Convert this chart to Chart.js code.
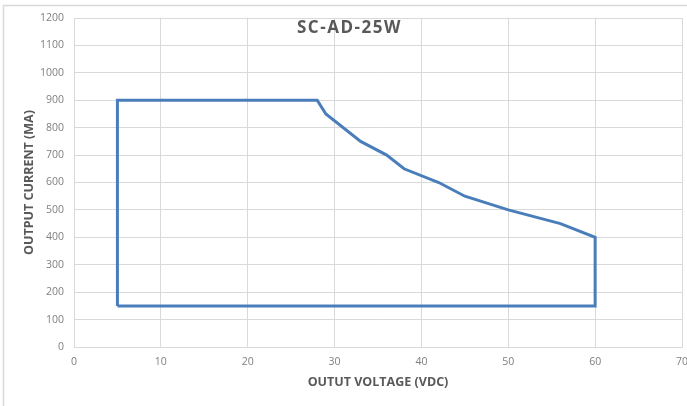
<!DOCTYPE html>
<html>
<head>
<meta charset="utf-8">
<script src="https://cdn.jsdelivr.net/npm/chart.js@4"></script>
<style>
html,body{margin:0;padding:0;background:#fff;}
#wrap{width:687px;height:406px;position:relative;}
</style>
</head>
<body>
<div id="wrap"><canvas id="c" width="687" height="406"></canvas></div>
<script>
const chartTitle = "SC-AD-25W";
const xTitle = "OUTUT VOLTAGE (VDC)";
const yTitle = "OUTPUT CURRENT (MA)";
const voltage = [5, 5, 28, 29, 33, 36, 38, 42, 45, 50, 56, 60, 60, 5];
const current = [150, 900, 900, 850, 750, 700, 650, 600, 550, 500, 450, 400, 150, 150];
const xTicks = [0, 10, 20, 30, 40, 50, 60, 70];
const yTicks = [0, 100, 200, 300, 400, 500, 600, 700, 800, 900, 1000, 1100, 1200];

const points = voltage.map((v, i) => ({x: v, y: current[i]}));

const framePlugin = {
  id: 'frame',
  beforeDraw(chart) {
    const ctx = chart.ctx;
    ctx.save();
    ctx.fillStyle = '#ffffff';
    ctx.fillRect(0, 0, chart.width, chart.height);
    ctx.strokeStyle = '#d9d9d9';
    ctx.lineWidth = 1.5;
    ctx.beginPath();
    ctx.moveTo(3.5, 406);
    ctx.lineTo(3.5, 5.5);
    ctx.lineTo(687, 5.5);
    ctx.stroke();
    ctx.restore();
  },
  afterDraw(chart) {
    const ctx = chart.ctx;
    ctx.save();
    ctx.font = 'bold 17px "Open Sans"';
    ctx.fillStyle = '#595959';
    ctx.textAlign = 'left';
    ctx.textBaseline = 'middle';
    try { ctx.letterSpacing = '1.5px'; } catch (e) {}
    ctx.fillText(chartTitle, 297, 28);
    ctx.restore();
  }
};

new Chart(document.getElementById('c'), {
  type: 'scatter',
  data: {
    datasets: [{
      data: points,
      showLine: true,
      borderColor: '#4a7ebb',
      backgroundColor: '#4a7ebb',
      borderWidth: 3,
      pointRadius: 0,
      tension: 0,
      fill: false
    }]
  },
  options: {
    responsive: false,
    animation: false,
    devicePixelRatio: 1,
    layout: {padding: {left: 0, top: 18, right: 5, bottom: 0}},
    plugins: {legend: {display: false}, tooltip: {enabled: false}, title: {display: false}},
    scales: {
      x: {
        type: 'linear',
        min: 0, max: 70,
        afterBuildTicks(scale) { scale.ticks = xTicks.map(v => ({value: v})); },
        afterFit(scale) { scale.height = 59; scale.paddingRight = 0; scale.paddingLeft = 0; },
        grid: {color: '#d9d9d9', lineWidth: 1, drawTicks: false},
        border: {color: '#d9d9d9', width: 1},
        ticks: {color: '#7f7f7f', font: {family: '"Open Sans"', size: 10.5}, padding: 9, maxRotation: 0,
                callback: v => String(v)},
        title: {display: true, text: xTitle, color: '#595959', font: {family: '"Open Sans"', size: 12.5, weight: 'bold'}, padding: {top: 0, bottom: 16}}
      },
      y: {
        type: 'linear',
        min: 0, max: 1200,
        afterBuildTicks(scale) { scale.ticks = yTicks.map(v => ({value: v})); },
        afterFit(scale) { scale.width = 74; scale.paddingTop = 0; scale.paddingBottom = 0; },
        grid: {color: '#d9d9d9', lineWidth: 1, drawTicks: false},
        border: {color: '#d9d9d9', width: 1},
        ticks: {color: '#7f7f7f', font: {family: '"Open Sans"', size: 10.5}, padding: 10,
                callback: v => String(v)},
        title: {display: true, text: yTitle, color: '#595959', font: {family: '"Open Sans"', size: 12.5, weight: 'bold'}, padding: {top: 22, bottom: 0}}
      }
    }
  },
  plugins: [framePlugin]
});
</script>
</body>
</html>
